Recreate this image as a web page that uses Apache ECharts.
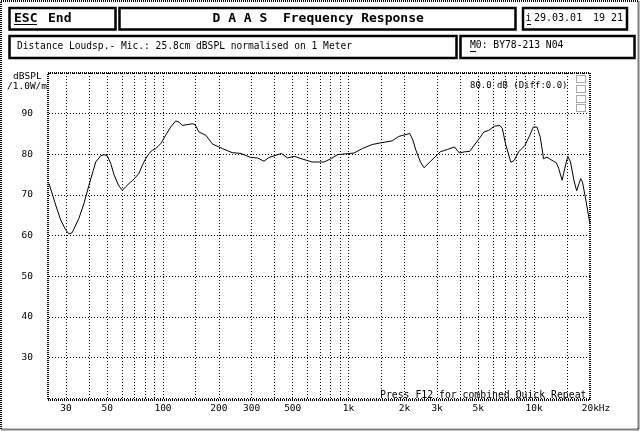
<!DOCTYPE html>
<html><head><meta charset="utf-8">
<script src="https://cdn.jsdelivr.net/npm/echarts@6/dist/echarts.min.js"></script>
<style>html,body{margin:0;padding:0;background:#fff}#c{width:640px;height:431px}</style>
</head><body><div id="c"></div>
<script>
// Frequency response data (Hz, dB SPL)
const freqHz = [24.3, 24.8, 26.4, 28.1, 29.9, 31.1, 32.4, 35.2, 37.5, 39.9, 43.4, 46.1, 48.1, 50.1, 52.3, 54.5, 57.5, 60.4, 63.0, 65.6, 69.8, 74.2, 77.4, 80.6, 84.1, 87.7, 91.3, 97.2, 103.4, 110, 117, 122, 127, 135, 144, 149, 156, 170, 185, 209, 236, 263, 297, 323, 350, 372, 422, 435, 468, 509, 575, 637, 738, 802, 872, 1070, 1185, 1340, 1486, 1718, 1866, 2137, 2220, 2306, 2440, 2550, 2770, 3120, 3420, 3720, 3960, 4220, 4490, 4950, 5370, 5700, 6100, 6540, 6740, 7010, 7490, 7810, 8250, 8930, 9480, 9890, 10090, 10360, 10790, 11240, 11730, 12480, 13180, 13560, 14150, 14620, 15180, 15700, 16380, 16950, 17460, 17830, 18210, 19000, 20000];
const splDb = [72.8, 72.4, 67.5, 63.8, 61.4, 60.4, 60.7, 64.2, 67.9, 72.4, 78.1, 79.6, 79.9, 79.6, 77.7, 74.9, 72.4, 71.1, 72.0, 72.8, 73.9, 75.3, 77.3, 78.9, 80.2, 81.0, 81.4, 82.6, 84.7, 86.7, 88.2, 87.9, 87.1, 87.3, 87.5, 87.3, 85.5, 84.7, 82.5, 81.4, 80.4, 80.2, 79.2, 79.1, 78.3, 79.2, 80.0, 80.2, 79.1, 79.5, 78.7, 78.1, 78.1, 78.9, 79.9, 80.3, 81.4, 82.4, 82.8, 83.3, 84.4, 85.1, 83.5, 81.0, 78.1, 76.7, 78.3, 80.6, 81.2, 81.8, 80.3, 80.6, 80.7, 83.3, 85.5, 85.9, 86.9, 87.1, 86.3, 82.6, 78.0, 78.5, 80.6, 82.2, 84.7, 86.7, 87.1, 86.7, 84.2, 78.9, 79.3, 78.5, 77.9, 76.5, 73.6, 76.5, 79.5, 78.1, 73.6, 71.0, 72.8, 74.0, 73.2, 68.7, 62.8];
const xGridHz = [30, 40, 50, 60, 70, 80, 90, 100, 150, 200, 300, 400, 500, 600, 700, 800, 900, 1000, 1500, 2000, 3000, 4000, 5000, 6000, 7000, 8000, 9000, 10000, 15000];
const xLabelHz = [30, 50, 100, 200, 300, 500, 1000, 2000, 3000, 5000, 10000, 20000];
const yHiddenLabels = [20, 100];

const MONO = '"DejaVu Sans Mono", "Liberation Mono", monospace';
const chart = echarts.init(document.getElementById('c'), null, {renderer: 'canvas'});

function txt(x, y, s, size, bold, fill) {
  return {type: 'text', x: x, y: y, z: 100, style: {
    text: s, fill: fill || '#000', font: (bold ? 'bold ' : '') + size + 'px ' + MONO,
    align: 'left', verticalAlign: 'middle', textAlign: 'left', textVerticalAlign: 'middle'}};
}
function box(x, y, w, h) {
  return {type: 'rect', z: 100, shape: {x: x, y: y, width: w, height: h},
    style: {fill: null, stroke: '#000', lineWidth: 2.5}};
}
function uline(x1, x2, y) {
  return {type: 'line', z: 100, shape: {x1: x1, y1: y, x2: x2, y2: y}, style: {stroke: '#000', lineWidth: 1}};
}

const graphics = [
  {type: 'rect', z: 99, shape: {x: 1, y: 1, width: 637.5, height: 428.5},
    style: {fill: null, stroke: '#000', lineWidth: 2, lineDash: [1, 1]}},
  box(9.5, 8, 106, 21.5), box(119.5, 8, 396, 21.5), box(523, 8, 104, 21.5),
  box(9.5, 36, 447, 22), box(460.5, 36, 174, 22),
  txt(14, 18.5, 'ESC', 13, true), uline(14, 37, 24.5),
  txt(48, 18.5, 'End', 13, true),
  txt(212.5, 18.5, 'D A A S  Frequency Response', 13, true),
  txt(525.5, 18.5, 'i', 10), uline(527, 531, 24.5),
  txt(534, 18.5, '29.03.01', 10), txt(593, 18.5, '19 21', 10),
  txt(17, 46, 'Distance Loudsp.- Mic.: 25.8cm dBSPL normalised on 1 Meter', 9.6),
  txt(470, 45.5, 'M0: BY78-213 N04', 9.7), uline(470, 476, 51.5),
  txt(13, 76.5, 'dBSPL', 9.5), txt(7, 87, '/1.0W/m', 9.5),
  txt(470, 86, '80.0 dB (Diff:0.0)', 9),
  txt(380, 395, 'Press F12 for combined Quick Repeat', 9.8),
  {type: 'rect', z: 100, shape: {x: 48, y: 73, width: 542, height: 327},
    style: {fill: null, stroke: '#000', lineWidth: 2, lineDash: [1, 1]}}
];
[75, 85, 95, 104].forEach(function (yy) {
  graphics.push({type: 'rect', z: 100, shape: {x: 576.5, y: yy + 0.5, width: 9, height: 7},
    style: {fill: null, stroke: '#555', lineWidth: 1, lineDash: [1, 1]}});
});

chart.setOption({
  animation: false,
  backgroundColor: '#fff',
  grid: {left: 49, right: 50, top: 73, bottom: 33, show: false},
  xAxis: {
    type: 'log', logBase: 10, min: 24.3, max: 20000,
    axisLine: {show: false},
    axisTick: {show: false, customValues: xGridHz},
    axisLabel: {
      customValues: xLabelHz, margin: 6, color: '#000', fontFamily: MONO, fontSize: 9.5,
      formatter: function (v) {
        v = Math.round(v);
        if (v === 20000) return '{u|20kHz}';
        return v >= 1000 ? (v / 1000) + 'k' : String(v);
      },
      rich: {u: {fontFamily: MONO, fontSize: 9.5, color: '#000', padding: [0, 0, 0, 12]}}
    },
    splitLine: {show: true, lineStyle: {color: '#000', width: 1, type: [1, 2]}},
    minorSplitLine: {show: false}
  },
  yAxis: {
    type: 'value', min: 20, max: 100, interval: 10,
    axisLine: {show: false}, axisTick: {show: false},
    axisLabel: {margin: 16, color: '#000', fontFamily: MONO, fontSize: 9.5,
      formatter: function (v) { return yHiddenLabels.indexOf(v) >= 0 ? '' : String(v); }},
    splitLine: {show: true, lineStyle: {color: '#000', width: 1, type: [1, 2]}}
  },
  series: [{
    type: 'line', showSymbol: false, symbol: 'none', smooth: false,
    data: freqHz.map(function (f, i) { return [f, splDb[i]]; }),
    lineStyle: {color: '#000', width: 1}, clip: true, z: 10
  }],
  graphic: graphics
});
</script></body></html>
